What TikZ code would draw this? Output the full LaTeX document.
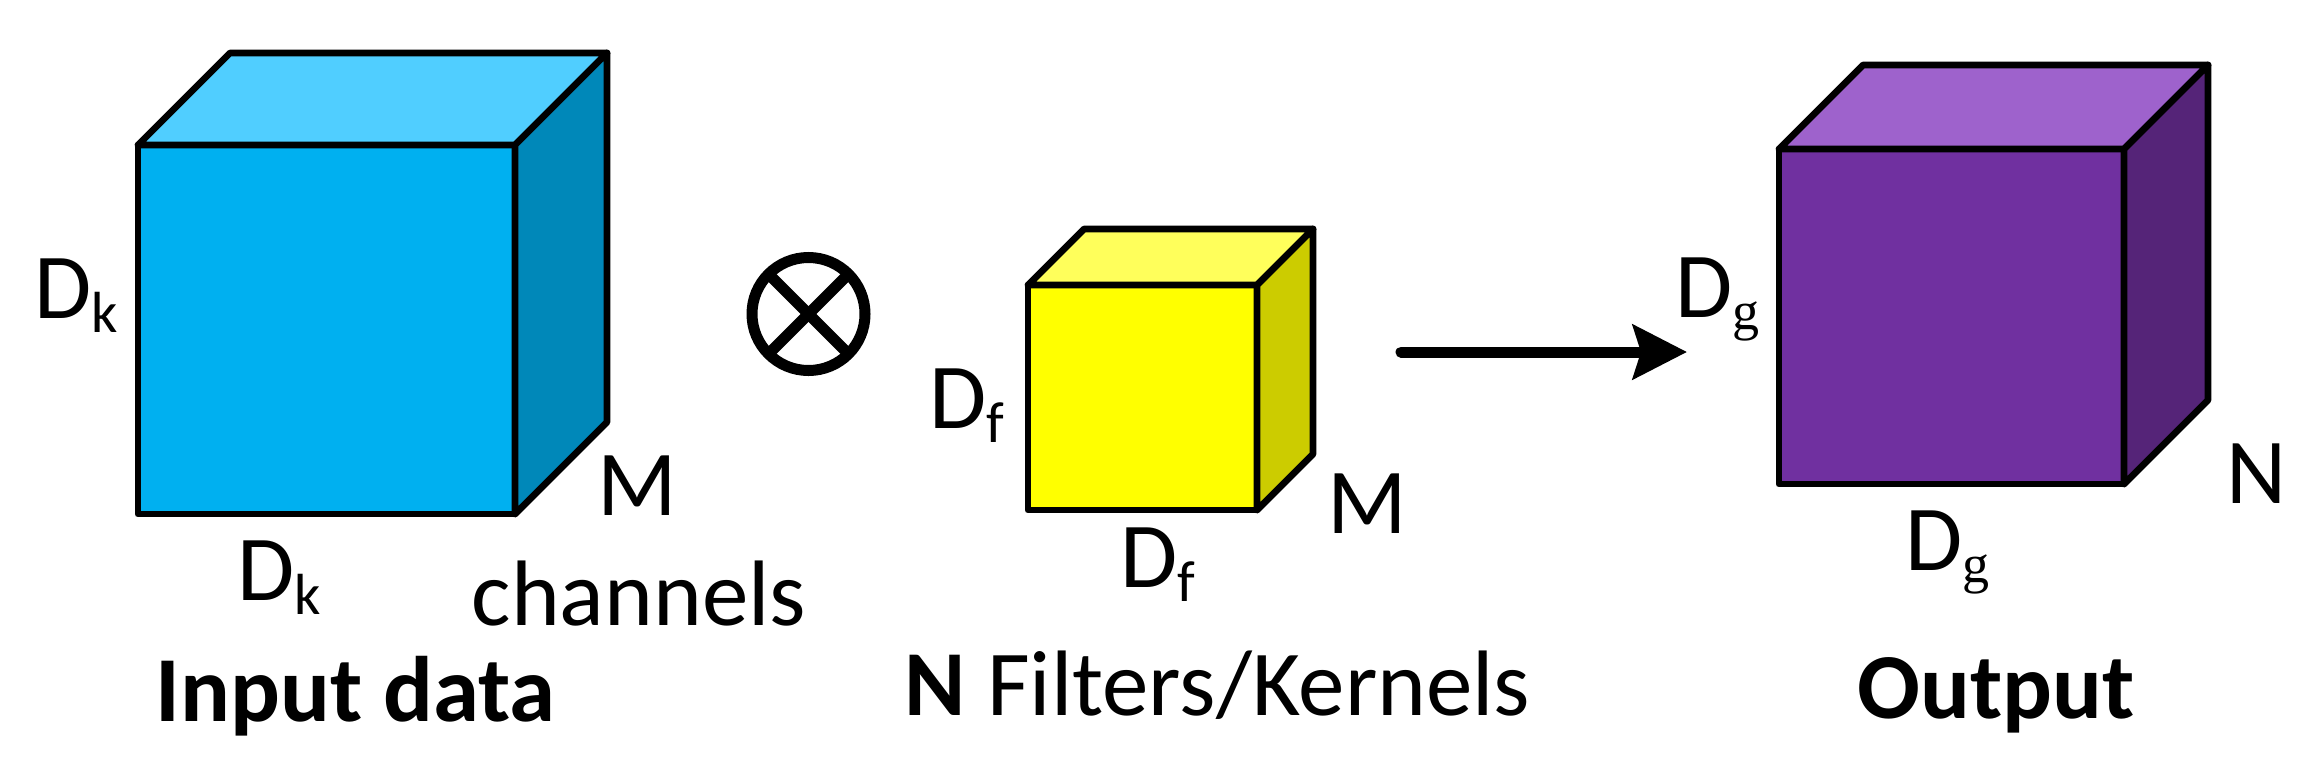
\documentclass[tikz,border=0pt]{standalone}
\usepackage{fontspec}
\setmainfont{Carlito}
\newfontfamily\serifg{Liberation Serif}
\usetikzlibrary{arrows.meta}
\definecolor{bluefront}{HTML}{00B0F0}
\definecolor{bluetop}{HTML}{50CEFF}
\definecolor{blueside}{HTML}{0088B9}
\definecolor{yelfront}{HTML}{FFFF00}
\definecolor{yeltop}{HTML}{FFFF5B}
\definecolor{yelside}{HTML}{CCCC00}
\definecolor{purfront}{HTML}{7030A0}
\definecolor{purtop}{HTML}{9E62CC}
\definecolor{purside}{HTML}{552478}
\newcommand\subk[1]{\raisebox{-14pt}{\fontsize{58pt}{58pt}\selectfont #1}}
\newcommand\subg{\raisebox{-12pt}{\fontsize{54pt}{54pt}\selectfont\serifg g}}
\newcommand\mycube[8]{%
  \filldraw[edge, fill=#6] (#1,#2) rectangle (#3,#4);
  \filldraw[edge, fill=#7] (#1,#2) -- ++(#5,-#5) -- (#3+#5,#2-#5) -- (#3,#2) -- cycle;
  \filldraw[edge, fill=#8] (#3,#2) -- (#3+#5,#2-#5) -- (#3+#5,#4-#5) -- (#3,#4) -- cycle;
}
\begin{document}
\begin{tikzpicture}[x=1pt,y=-1pt,
  edge/.style={draw=black, line width=6.7pt, line join=round},
  lbl/.style={anchor=base, inner sep=0pt, font=\fontsize{93pt}{100pt}\selectfont},
  arrowline/.style={line width=11pt, line cap=round, -{Stealth[length=54pt,width=54pt,inset=8pt]}}]
\useasboundingbox (0,0) rectangle (2320,782);
% cubes
\mycube{138}{145}{515}{514}{92}{bluefront}{bluetop}{blueside}
\mycube{1028}{285}{1257}{510}{56}{yelfront}{yeltop}{yelside}
\mycube{1779}{149}{2124}{484}{84}{purfront}{purtop}{purside}
% otimes
\node[circle, draw, line width=11pt, minimum size=113pt, inner sep=0pt, outer sep=0pt] (otimes) at (808.5,314) {};
\draw[line width=11pt] (otimes.45) -- (otimes.225);
\draw[line width=11pt] (otimes.135) -- (otimes.315);
% arrow
\coordinate (aS) at (1401,352);
\coordinate (aE) at (1687,352);
\draw[arrowline] (aS) -- (aE);
% labels input
\node[lbl] (dkL) at (76,318) {D\subk{k}};
\node[lbl] (dkB) at (279.5,600) {D\subk{k}};
\node[lbl] (mB) at (637.5,515) {M};
\node[lbl] (chan) at (639,625) {channels};
\node[lbl] (inp) at (355.5,721) {\bfseries Input data};
% labels filter
\node[lbl] (dfL) at (966.5,428) {D\subk{f}};
\node[lbl] (dfB) at (1157.5,587) {D\subk{f}};
\node[lbl] (mY) at (1367.5,533) {M};
\node[lbl] (filt) at (1217.5,715) {\textbf{N} Filters/Kernels};
% labels output
\node[lbl] (dgL) at (1717.5,317) {D\subg};
\node[lbl] (dgB) at (1947.5,570) {D\subg};
\node[lbl] (nO) at (2256,503) {N};
\node[lbl] (outp) at (1996,718) {\bfseries Output};
\end{tikzpicture}
\end{document}
